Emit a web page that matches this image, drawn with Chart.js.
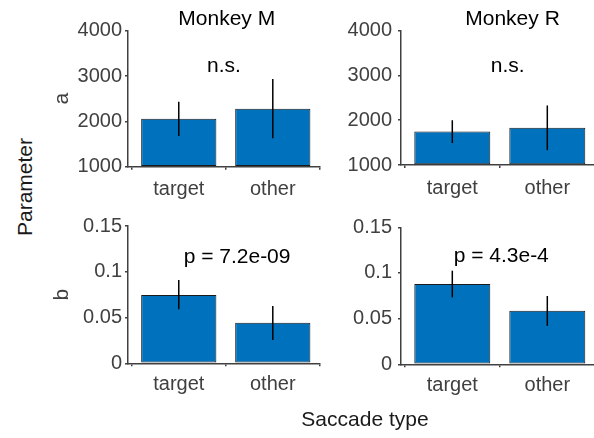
<!DOCTYPE html>
<html>
<head>
<meta charset="utf-8">
<script src="https://cdn.jsdelivr.net/npm/chart.js@4.4.0/dist/chart.umd.min.js"></script>
<style>
  html, body { margin: 0; padding: 0; background: #fff; }
  #fig { position: relative; width: 594px; height: 438px; overflow: hidden; background: #fff;
         font-family: 'Liberation Sans', Arial, sans-serif; }
  .panel { position: absolute; }
  .lab { position: absolute; color: #1a1a1a; font-size: 21px; line-height: 21px; white-space: nowrap; }
</style>
</head>
<body>
<div id="fig">
  <div class="panel" style="left:50px; top:0px; width:272px; height:200px;"><canvas id="cTL"></canvas></div>
  <div class="panel" style="left:331px; top:0px; width:270px; height:200px;"><canvas id="cTR"></canvas></div>
  <div class="panel" style="left:50px; top:200px; width:272px; height:238px;"><canvas id="cBL"></canvas></div>
  <div class="panel" style="left:331px; top:200px; width:270px; height:238px;"><canvas id="cBR"></canvas></div>
  <div class="lab" style="left:24px; top:187px; transform: translate(-50%, -50%) rotate(-90deg);">Parameter</div>
  <div class="lab" style="left:365px; top:408px; transform: translateX(-50%);">Saccade type</div>
</div>
<script>
// Kategoriat ja niiden paikat x-akselilla
const categories = ['target', 'other'];
const catPos = [1, 2];

// Parametri a (keskiarvo, virhepalkin ala- ja yläpää)
const monkeyM_a = [2060, 2280];
const monkeyM_a_lo = [1675, 1625];
const monkeyM_a_hi = [2435, 2935];
const monkeyR_a = [1750, 1830];
const monkeyR_a_lo = [1490, 1330];
const monkeyR_a_hi = [2000, 2330];

// Parametri b
const monkeyM_b = [0.0747, 0.0444];
const monkeyM_b_lo = [0.059, 0.0255];
const monkeyM_b_hi = [0.091, 0.0627];
const monkeyR_b = [0.0879, 0.0587];
const monkeyR_b_lo = [0.0733, 0.042];
const monkeyR_b_hi = [0.1025, 0.0748];

// Akselien jakoviivat
const ticksA = [1000, 2000, 3000, 4000];
const tickLabelsA = ['1000', '2000', '3000', '4000'];
const ticksB = [0, 0.05, 0.1, 0.15];
const tickLabelsB = ['0', '0.05', '0.1', '0.15'];

const FONT = "'Liberation Sans', Arial, sans-serif";
const AXIS = '#404040';

// Virhepalkit piirretään skaalojen kautta
const errorBars = {
  id: 'errorBars',
  afterDatasetsDraw(chart, args, opts) {
    const { ctx, scales: { x, y } } = chart;
    ctx.save();
    ctx.strokeStyle = '#000';
    ctx.lineWidth = 1.5;
    opts.lo.forEach((lo, i) => {
      const px = x.getPixelForValue(catPos[i]);
      ctx.beginPath();
      ctx.moveTo(px, y.getPixelForValue(lo));
      ctx.lineTo(px, y.getPixelForValue(opts.hi[i]));
      ctx.stroke();
    });
    ctx.restore();
  }
};

// Otsikot ja merkitsevyystekstit datakoordinaateissa
const notes = {
  id: 'notes',
  afterDraw(chart, args, opts) {
    const { ctx, scales: { x, y } } = chart;
    ctx.save();
    ctx.textAlign = 'center';
    ctx.textBaseline = 'alphabetic';
    opts.items.forEach(n => {
      ctx.font = '21px ' + FONT;
      ctx.fillStyle = '#000';
      ctx.fillText(n.text, x.getPixelForValue(n.x), y.getPixelForValue(n.y));
    });
    ctx.restore();
  }
};

function panel(id, cfg) {
  return new Chart(document.getElementById(id), {
    type: 'bar',
    data: {
      datasets: [{
        data: catPos.map((p, i) => ({ x: p, y: cfg.values[i] })),
        backgroundColor: '#0072bd',
        borderColor: '#1a1a1a',
        borderWidth: 1,
        borderSkipped: false,
        base: cfg.yMin,
        barPercentage: 0.8,
        categoryPercentage: 1
      }]
    },
    options: {
      responsive: true,
      maintainAspectRatio: false,
      animation: false,
      events: [],
      layout: { padding: { left: 0, top: cfg.padTop, right: cfg.padRight, bottom: 0 } },
      scales: {
        x: {
          type: 'linear',
          offset: false,
          min: 0.46,
          max: 2.5,
          afterBuildTicks: axis => { axis.ticks = catPos.map(v => ({ value: v })); },
          afterFit: axis => { axis.height = cfg.xHeight; },
          grid: { display: true, drawOnChartArea: false, drawTicks: true, tickLength: 3, color: AXIS, lineWidth: 1.5 },
          border: { display: true, color: AXIS, width: 1.5 },
          ticks: {
            padding: cfg.xPad,
            color: AXIS,
            font: { family: FONT, size: 20 },
            callback: v => categories[catPos.indexOf(v)] || ''
          }
        },
        y: {
          min: cfg.yMin,
          max: cfg.yMax,
          afterBuildTicks: axis => { axis.ticks = cfg.ticks.map(v => ({ value: v })); },
          afterFit: axis => { axis.width = cfg.yWidth; },
          grid: { display: true, drawOnChartArea: false, drawTicks: true, tickLength: 3, color: AXIS, lineWidth: 1.5 },
          border: { display: true, color: AXIS, width: 1.5 },
          ticks: {
            padding: cfg.tickPad,
            color: AXIS,
            font: { family: FONT, size: 20 },
            callback: v => cfg.tickLabels[cfg.ticks.indexOf(v)]
          },
          title: {
            display: !!cfg.yTitle,
            text: cfg.yTitle || '',
            color: AXIS,
            padding: 0,
            font: { family: FONT, size: 21 }
          }
        }
      },
      plugins: {
        legend: { display: false },
        tooltip: { enabled: false },
        errorBars: { lo: cfg.lo, hi: cfg.hi },
        notes: { items: cfg.notes }
      }
    },
    plugins: [errorBars, notes]
  });
}

panel('cTL', {
  values: monkeyM_a, lo: monkeyM_a_lo, hi: monkeyM_a_hi,
  yMin: 1000, yMax: 4000, ticks: ticksA, tickLabels: tickLabelsA,
  yTitle: 'a', yWidth: 78, tickPad: 3, xPad: 8, padTop: 30.7, padRight: 2.2, xHeight: 33.3,
  notes: [{ text: 'Monkey M', x: 1.51, y: 4126 }, { text: 'n.s.', x: 1.48, y: 3096 }]
});
panel('cTR', {
  values: monkeyR_a, lo: monkeyR_a_lo, hi: monkeyR_a_hi,
  yMin: 1000, yMax: 4000, ticks: ticksA, tickLabels: tickLabelsA,
  yTitle: '', yWidth: 70, tickPad: 6, xPad: 8, padTop: 30.7, padRight: 6.2, xHeight: 35,
  notes: [{ text: 'Monkey R', x: 1.634, y: 4127 }, { text: 'n.s.', x: 1.584, y: 3084 }]
});
panel('cBL', {
  values: monkeyM_b, lo: monkeyM_b_lo, hi: monkeyM_b_hi,
  yMin: 0, yMax: 0.15, ticks: ticksB, tickLabels: tickLabelsB,
  yTitle: 'b', yWidth: 78, tickPad: 3, xPad: 6, padTop: 26, padRight: 2.2, xHeight: 74.7,
  notes: [{ text: 'p = 7.2e-09', x: 1.62, y: 0.1101 }]
});
panel('cBR', {
  values: monkeyR_b, lo: monkeyR_b_lo, hi: monkeyR_b_hi,
  yMin: 0, yMax: 0.15, ticks: ticksB, tickLabels: tickLabelsB,
  yTitle: '', yWidth: 70, tickPad: 6, xPad: 6, padTop: 27.3, padRight: 6.2, xHeight: 73.7,
  notes: [{ text: 'p = 4.3e-4', x: 1.515, y: 0.1123 }]
});
</script>
</body>
</html>
